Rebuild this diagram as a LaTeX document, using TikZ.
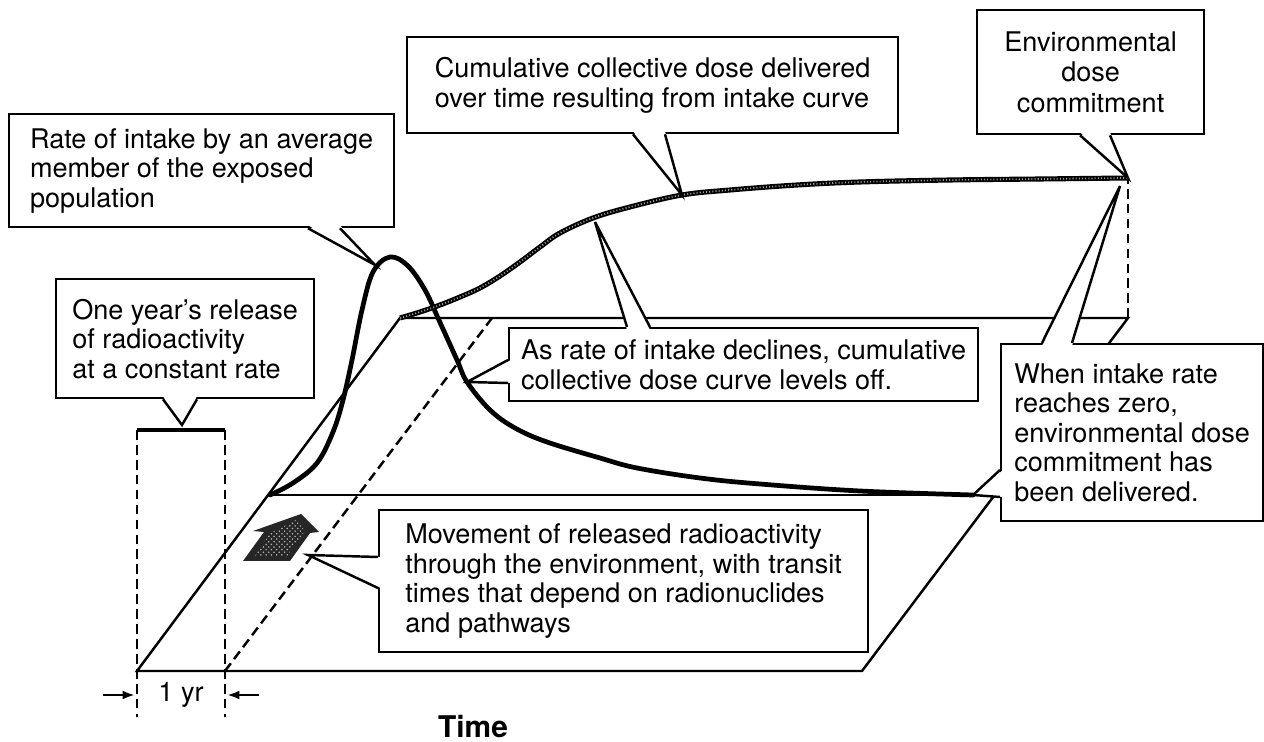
\documentclass[tikz,border=0pt]{standalone}
\usepackage{fontspec}
\setmainfont{TeX Gyre Heros}
\usetikzlibrary{calc, arrows.meta, patterns}

\tikzset{
    note/.style={draw, fill=white, line width=1.3pt, inner sep=0pt, align=left,
        anchor=north west, font=\fontsize{15.4}{16.8}\selectfont},
    edge/.style={line width=1.4pt},
    dashline/.style={line width=1.4pt, dash pattern=on 5.5pt off 3pt},
    intake/.style={line width=2.7pt, line cap=round},
    beads/.style={white!60!black, line width=1pt, dash pattern=on 0.6pt off 1.2pt,
        preaction={draw, black, solid, line width=2.9pt}}
}

% callout pointer: base A, tip, base B, shift into the box
\newcommand{\balloon}[4]{%
    \fill[white] ($(#1)+(#4)$) -- (#2) -- ($(#3)+(#4)$) -- cycle;
    \draw[edge] (#1) -- (#2) -- (#3);}

\begin{document}
\begin{tikzpicture}[x=0.02cm, y=-0.02cm]
    \useasboundingbox (0,0) rectangle (1264,742);

    % the slab of time and space
    \coordinate (o) at (137,671);
    \coordinate (a) at (862,671);
    \coordinate (b) at (1128,318);
    \coordinate (c) at (400,318);
    \coordinate (m1) at (270,495);
    \coordinate (m2) at (995,495);
    \coordinate (d0) at (225,671);
    \coordinate (d1) at (492,318);
    \draw[edge] (o) -- (a) -- (b) -- (c) -- cycle;
    \draw[edge] (m1) -- (m2);
    \draw[dashline] (d0) -- (d1);

    % one year release
    \coordinate (r0) at (137,430);
    \coordinate (r1) at (225,430);
    \coordinate (relmid) at (182,425);
    \draw[dashline] (r0) -- (137,717);
    \draw[dashline] (r1) -- (225,717);
    \draw[line width=2.4pt] (r0) -- (r1);
    \coordinate (t0) at (137,695);
    \coordinate (t1) at (225,695);
    \draw[edge, -{Latex[length=7pt,width=5pt]}] ($(t0)+(-34,0)$) -- ($(t0)+(-2,0)$);
    \draw[edge, -{Latex[length=7pt,width=5pt]}] ($(t1)+(34,0)$) -- ($(t1)+(2,0)$);
    \node[font=\fontsize{15.4}{16.8}\selectfont] (yr) at (181,695) {1 yr};
    \node[font=\bfseries\fontsize{17}{20}\selectfont] (time) at (473,727) {Time};

    % dose commitment
    \coordinate (top) at (1128,178);
    \draw[dashline] (b) -- (top);

    % intake and cumulative dose
    \draw[intake] plot[smooth, tension=0.6] coordinates {(270,495) (293,483)
        (317,463) (333,432) (343,400) (352,360) (362,310) (373,272) (390,257)
        (408,266) (425,290) (438,318) (457,360) (467,382) (490,410) (515,428)
        (547,442) (600,458) (637,468) (700,478) (760,484) (860,491) (973,495)};
    \draw[beads] plot[smooth, tension=0.6] coordinates {(400,318) (420,312)
        (440,305) (460,297) (480,288) (500,276) (520,262) (540,247) (560,233)
        (593,218) (630,207) (682,195) (730,190) (797,185) (860,182) (950,180)
        (1040,179) (1128,178)};

    % movement arrow
    \fill[black!85] (243,561) -- (290,561) -- (310,533) -- (319,532) -- (301,514)
        -- (253,531) -- (264,532) -- cycle;
    \fill[pattern=crosshatch dots, pattern color=white!70!black] (255,556)
        -- (287,556) -- (305,531) -- (296,520) -- (270,533) -- cycle;

    % callouts
    \node[note, minimum width=7.70cm, minimum height=2.26cm] (rate) at (8,113)
        {Rate of intake by an average\\member of the exposed\\population};
    \node[note, minimum width=5.16cm, minimum height=2.38cm] (release) at (55,278)
        {One year's release\\of radioactivity\\at a constant rate};
    \node[note, minimum width=9.82cm, minimum height=1.92cm] (cumul) at (406,36)
        {Cumulative collective dose delivered\\over time resulting from intake curve};
    \node[note, align=center, minimum width=4.54cm, minimum height=2.48cm,
        font=\fontsize{15.4}{17.5}\selectfont] (commit) at (976,9)
        {Environmental\\dose\\commitment};
    \node[note, minimum width=9.38cm, minimum height=1.46cm] (decline) at (508,327)
        {As rate of intake declines, cumulative\\collective dose curve levels off.};
    \node[note, minimum width=5.24cm, minimum height=3.54cm] (zero) at (1000,343)
        {When intake rate\\reaches zero,\\environmental dose\\commitment has\\been delivered.};
    \node[note, minimum width=9.78cm, minimum height=2.84cm] (move) at (378,509)
        {Movement of released radioactivity\\through the environment, with transit\\times that depend on radionuclides\\and pathways};

    % pointer tips
    \coordinate (peak) at (375,265);
    \coordinate (cum1) at (682,195);
    \coordinate (cum2) at (595,222);
    \coordinate (fall) at (467,382);
    \coordinate (topz) at (1120,186);
    \coordinate (tail) at (973,495);
    \coordinate (drift) at (308,555);

    % pointer bases
    \coordinate (rate1) at ($(rate.south west)+(300,0)$);
    \coordinate (rate2) at ($(rate.south west)+(332,0)$);
    \coordinate (rel1) at ($(release.south west)+(108,0)$);
    \coordinate (rel2) at ($(release.south west)+(142,0)$);
    \coordinate (cumul1) at ($(cumul.south west)+(227,0)$);
    \coordinate (cumul2) at ($(cumul.south west)+(259,0)$);
    \coordinate (com1) at ($(commit.south west)+(104,0)$);
    \coordinate (com2) at ($(commit.south west)+(134,0)$);
    \coordinate (dec1) at ($(decline.north west)+(119,0)$);
    \coordinate (dec2) at ($(decline.north west)+(142,0)$);
    \coordinate (dec3) at ($(decline.north west)+(0,33)$);
    \coordinate (dec4) at ($(decline.north west)+(0,56)$);
    \coordinate (zero1) at ($(zero.north west)+(42,0)$);
    \coordinate (zero2) at ($(zero.north west)+(72,0)$);
    \coordinate (zero3) at ($(zero.north west)+(0,127)$);
    \coordinate (zero4) at ($(zero.north west)+(0,154)$);
    \coordinate (move1) at ($(move.north west)+(0,48)$);
    \coordinate (move2) at ($(move.north west)+(0,79)$);

    \balloon{rate1}{peak}{rate2}{0,-3}
    \balloon{rel1}{relmid}{rel2}{0,-3}
    \balloon{cumul1}{cum1}{cumul2}{0,-3}
    \balloon{com1}{top}{com2}{0,-3}
    \balloon{dec1}{cum2}{dec2}{0,3}
    \balloon{dec3}{fall}{dec4}{3,0}
    \balloon{zero1}{topz}{zero2}{0,3}
    \balloon{zero3}{tail}{zero4}{3,0}
    \balloon{move1}{drift}{move2}{3,0}
\end{tikzpicture}
\end{document}
